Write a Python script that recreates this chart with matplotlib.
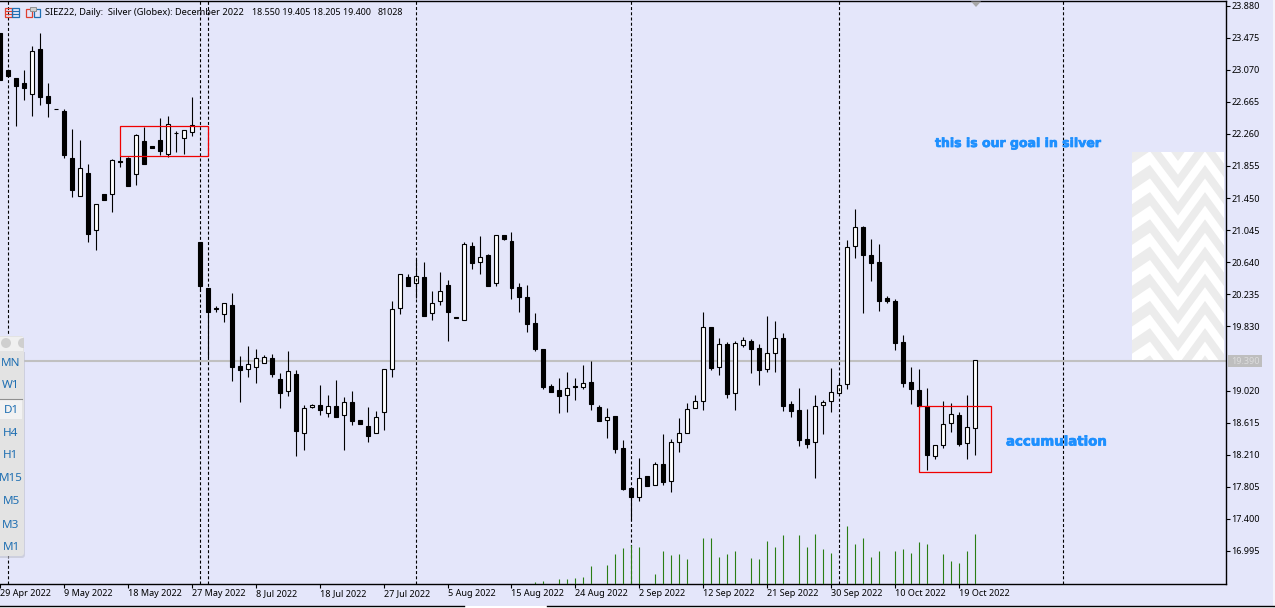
import matplotlib
matplotlib.use("Agg")
import matplotlib.pyplot as plt
import matplotlib.patheffects as pe
from matplotlib.patches import Rectangle, Polygon, Circle, FancyBboxPatch

W, H = 1275, 608

# daily candles
opens = [23.535, 23.06, 22.96, 22.905, 22.765, 23.325, 22.74, 22.58, 22.55, 21.955,
         21.475, 21.765, 21.045, 21.50, 21.50, 21.92, 21.955, 21.755, 22.17, 22.105,
         22.185, 22.005, 22.265, 22.21, 22.285, 20.895, 20.315, 20.065, 19.98, 20.10,
         19.33, 19.29, 19.315, 19.365, 19.43, 19.165, 19.01, 19.225, 18.48, 18.81,
         18.835, 18.735, 18.825, 18.71, 18.875, 18.645, 18.57, 18.48, 18.745, 19.29,
         20.06, 20.45, 20.375, 20.45, 19.995, 20.15, 20.35, 19.945, 19.915, 20.845,
         20.64, 20.73, 20.375, 20.98, 20.905, 20.325, 20.20, 19.87, 19.54, 19.075,
         19.025, 18.96, 19.08, 19.06, 19.125, 18.81, 18.645, 18.695, 18.29, 17.785,
         17.67, 17.94, 17.825, 18.09, 17.875, 18.365, 18.48, 18.805, 18.885, 19.82,
         19.315, 19.605, 18.985, 19.60, 19.645, 19.555, 19.29, 19.49, 19.68, 18.85,
         18.77, 18.405, 18.365, 18.835, 18.885, 18.995, 19.10, 20.845, 21.085, 20.73,
         20.64, 20.19, 20.15, 19.63, 19.125, 19.025, 18.82, 18.19, 18.33, 18.61,
         18.71, 18.355, 18.55]
highs = [23.535, 23.06, 22.97, 23.07, 23.375, 23.535, 22.905, 22.58, 22.58, 22.325,
         22.185, 21.885, 21.375, 21.50, 21.945, 21.985, 21.97, 22.26, 22.35, 22.105,
         22.455, 22.48, 22.29, 22.31, 22.72, 20.895, 20.315, 20.09, 20.13, 20.25,
         19.46, 19.585, 19.545, 19.465, 19.48, 19.24, 19.52, 19.275, 18.835, 18.85,
         19.09, 18.965, 19.155, 18.935, 19.015, 18.645, 18.81, 18.765, 19.29, 20.155,
         20.49, 20.49, 20.68, 20.64, 20.28, 20.52, 20.415, 19.945, 20.895, 20.895,
         20.975, 20.74, 20.98, 20.98, 21.02, 20.375, 20.35, 20.00, 19.54, 19.10,
         19.175, 19.25, 19.175, 19.345, 19.39, 18.835, 18.795, 18.695, 18.395, 17.80,
         18.17, 17.94, 18.115, 18.47, 18.405, 18.67, 18.86, 18.96, 20.01, 19.82,
         19.68, 19.63, 19.645, 19.695, 19.67, 19.605, 19.96, 19.895, 19.745, 18.885,
         19.05, 18.785, 18.96, 18.90, 19.30, 19.16, 20.92, 21.31, 21.095, 20.93,
         20.87, 20.21, 20.175, 19.725, 19.315, 19.29, 19.05, 18.33, 18.885, 18.86,
         18.745, 18.96, 19.405]
lows = [22.945, 22.995, 22.355, 22.685, 22.48, 22.62, 22.47, 22.57, 21.95, 21.46,
        21.475, 20.90, 20.80, 21.42, 21.27, 21.84, 21.60, 21.61, 21.875, 22.08,
        21.99, 21.965, 22.025, 22.00, 22.23, 20.27, 19.44, 20.015, 19.88, 19.145,
        18.88, 19.195, 19.12, 19.365, 19.185, 18.805, 18.955, 18.19, 18.265, 18.805,
        18.715, 18.685, 18.69, 18.275, 18.58, 18.595, 18.365, 18.48, 18.525, 19.185,
        19.98, 20.335, 20.19, 19.955, 19.915, 20.105, 19.64, 19.93, 19.905, 20.56,
        20.485, 20.345, 20.345, 20.915, 20.18, 20.005, 19.755, 19.525, 19.045, 19.005,
        18.73, 18.755, 18.905, 19.035, 18.78, 18.64, 18.415, 18.235, 17.77, 17.385,
        17.63, 17.82, 17.825, 17.83, 17.745, 18.25, 18.48, 18.795, 18.78, 19.275,
        19.22, 18.92, 18.78, 19.565, 19.245, 19.085, 19.25, 19.26, 18.765, 18.69,
        18.315, 18.30, 17.91, 18.475, 18.755, 18.985, 19.045, 20.69, 20.00, 20.405,
        20.03, 20.12, 19.535, 19.06, 18.845, 18.82, 18.02, 18.16, 18.29, 18.50,
        18.315, 18.16, 18.205]
closes = [22.945, 22.995, 22.86, 22.835, 23.31, 22.72, 22.645, 22.57, 21.99, 21.55,
          21.83, 20.99, 21.375, 21.42, 21.93, 21.905, 21.60, 22.245, 21.875, 22.08,
          22.04, 22.385, 22.275, 22.31, 22.375, 20.335, 20.005, 20.05, 20.13, 19.315,
          19.285, 19.355, 19.425, 19.44, 19.225, 18.995, 19.265, 18.505, 18.795, 18.835,
          18.78, 18.825, 18.69, 18.875, 18.64, 18.595, 18.445, 18.685, 19.29, 20.05,
          20.49, 20.345, 20.465, 19.955, 20.13, 20.275, 20.005, 19.93, 20.87, 20.635,
          20.705, 20.345, 20.98, 20.935, 20.32, 20.205, 19.855, 19.54, 19.07, 19.005,
          18.945, 19.05, 19.06, 19.12, 18.855, 18.64, 18.685, 18.285, 17.78, 17.67,
          17.915, 17.82, 18.09, 17.87, 18.365, 18.48, 18.785, 18.885, 19.82, 19.31,
          19.605, 18.98, 19.62, 19.655, 19.55, 19.285, 19.49, 19.68, 18.83, 18.765,
          18.40, 18.35, 18.83, 18.88, 19.005, 19.095, 20.83, 21.085, 20.725, 20.625,
          20.155, 20.145, 19.625, 19.11, 19.035, 18.82, 18.20, 18.33, 18.595, 18.72,
          18.34, 18.555, 19.40]

volume_bars = [67, 68, 70, 71, 72, 73, 74, 76, 77, 78, 79, 80, 82, 83, 84, 85, 86, 88, 89, 90,
               91, 92, 94, 95, 96, 97, 98, 100, 101, 102, 103, 104, 106, 107, 108, 109, 110,
               112, 113, 114, 115, 116, 118, 119, 120, 121, 122]
volumes = [2190, 3840, 7120, 7120, 8770, 10410, 28500, 30140, 48220, 58090, 63020, 59730,
           15340, 53160, 46580, 48220, 40000, 74530, 74530, 43290, 48220, 53160, 41650,
           40000, 69600, 59730, 79460, 79460, 59730, 81028, 56440, 49870, 94260, 64660,
           74530, 43290, 53160, 53160, 56440, 49870, 67950, 64660, 48220, 36720, 33430,
           53160, 81028]

price_ticks = [23.880, 23.475, 23.070, 22.665, 22.260, 21.855, 21.450, 21.045, 20.640,
               20.235, 19.830, 19.020, 18.615, 18.210, 17.805, 17.400, 16.995]
date_labels = ['29 Apr 2022', '9 May 2022', '18 May 2022', '27 May 2022', '8 Jul 2022',
               '18 Jul 2022', '27 Jul 2022', '5 Aug 2022', '15 Aug 2022', '24 Aug 2022',
               '2 Sep 2022', '12 Sep 2022', '21 Sep 2022', '30 Sep 2022', '10 Oct 2022',
               '19 Oct 2022']
date_bars = [0, 8, 16, 24, 32, 40, 48, 56, 64, 72, 80, 88, 96, 104, 112, 120]
period_bars = [1, 25, 26, 52, 79, 105, 133]
timeframes = ['MN', 'W1', 'D1', 'H4', 'H1', 'M15', 'M5', 'M3', 'M1']
last_price = 19.390

BG = '#e4e6fa'
plt.rcParams['font.family'] = 'Noto Sans'

fig = plt.figure(figsize=(W / 100, H / 100), dpi=100, facecolor=BG)
ax = fig.add_axes([0, 24.5 / H, 1226 / W, 582.5 / H], facecolor=BG)

# price / bar scale follow the chart's own pixel grid
ax.set_xlim(0.15, 153.4)
ax.set_ylim(16.584, 23.937)

ax.axhline(last_price, color='#c0c0c0', lw=1.5, zorder=1)

x = list(range(len(opens)))
ax.vlines(x, lows, highs, color='black', lw=0.8, zorder=2)
for i in x:
    up = closes[i] >= opens[i]
    bottom = min(opens[i], closes[i])
    height = abs(closes[i] - opens[i])
    ax.bar(i, height, bottom=bottom, width=0.5, color='white' if up else 'black',
           edgecolor='black', linewidth=0.8, zorder=3)

for b in period_bars:
    ax.axvline(b, color='black', lw=0.8, linestyle=(0, (2.7, 2.0)), zorder=4)

ax.add_patch(Rectangle((15, 21.98), 11, 0.38, fill=False, edgecolor='#f00000', lw=0.9, zorder=5))
ax.add_patch(Rectangle((115, 17.995), 9, 0.825, fill=False, edgecolor='#f00000', lw=0.9, zorder=5))

ax.spines['left'].set_visible(False)
ax.yaxis.tick_right()
ax.set_yticks(price_ticks, ['%.3f' % p for p in price_ticks])
ax.set_xticks(date_bars, date_labels, ha='left')
ax.tick_params(axis='y', length=3, width=0.8, pad=1, labelsize=6.5, colors='black')
ax.tick_params(axis='x', length=3, width=0.8, pad=1, labelsize=6.5, colors='black')
for sp in ax.spines.values():
    sp.set_linewidth(1.0)

# volume histogram sits on the same baseline
vol_ax = fig.add_axes(ax.get_position(), facecolor='none')
vol_ax.set_xlim(ax.get_xlim())
vol_ax.set_ylim(0, 957000)
vol_ax.vlines(volume_bars, 0, volumes, color='#2a7d14', lw=0.8)
vol_ax.axis('off')

# everything that is not data is placed in screen pixels
ov = fig.add_axes([0, 0, 1, 1], facecolor='none')
ov.set_xlim(0, W)
ov.set_ylim(H, 0)
ov.axis('off')

ov.text(45, 12.5, 'SIEZ22, Daily:  Silver (Globex): December 2022', fontsize=6.7,
        va='center', ha='left', color='black')
ov.text(252, 12.5, '18.550 19.405 18.205 19.400', fontsize=6.45, va='center', ha='left', color='black')
ov.text(378, 12.5, '81028', fontsize=6.45, va='center', ha='left', color='black')

heavy = [pe.withStroke(linewidth=0.5, foreground='#1e90ff')]
ov.text(935, 143.5, 'this is our goal in silver', fontsize=9.0, fontweight='bold',
        family='DejaVu Sans', color='#1e90ff', va='center', ha='left', path_effects=heavy)
ov.text(1006, 442, 'accumulation', fontsize=9.6, fontweight='bold',
        family='DejaVu Sans', color='#1e90ff', va='center', ha='left', path_effects=heavy)

# chevron picture
clip = Rectangle((1132, 152), 92, 208, facecolor='white', edgecolor='none')
ov.add_patch(clip)
for k in range(-2, 10):
    yo = 161 + 27.2 * k
    xs = [1095, 1150, 1178, 1205, 1232]
    low = [yo, yo - 37, yo, yo - 37, yo]
    pts = list(zip(xs, low)) + list(zip(xs[::-1], [v - 13.5 for v in low[::-1]]))
    poly = Polygon(pts, facecolor='#ececec', edgecolor='none')
    ov.add_patch(poly)
    poly.set_clip_path(clip)

# current price label
ov.add_patch(Rectangle((1228, 355), 34, 12, facecolor='#bebebe', edgecolor='none'))
ov.text(1231, 361, '%.3f' % last_price, fontsize=6.5, color='#dcdcdc', va='center', ha='left')

# marker on the top edge
ov.add_patch(Polygon([(971, 1.5), (981, 1.5), (976, 7)], facecolor='#a8a8a8', edgecolor='none'))

# two toolbar icons
ov.add_patch(Rectangle((4.5, 8), 7, 9, facecolor='none', edgecolor='#e04030', lw=0.9))
ov.add_patch(Rectangle((11.5, 8), 7, 9, facecolor='none', edgecolor='#1f6fb2', lw=0.9))
for yy in (11, 14):
    ov.plot([6, 11], [yy, yy], color='#e04030', lw=0.8)
    ov.plot([13, 18], [yy, yy], color='#1f6fb2', lw=0.8)
ov.add_patch(Rectangle((25.5, 9), 6, 8, facecolor='none', edgecolor='#e04030', lw=0.9))
ov.add_patch(Rectangle((33.5, 9), 6, 8, facecolor='none', edgecolor='#1f6fb2', lw=0.9))
ov.add_patch(Rectangle((29.5, 7), 6, 4, facecolor='#d0d0d0', edgecolor='#909090', lw=0.7))

# timeframe panel
ov.add_patch(FancyBboxPatch((-8, 338), 33, 220, boxstyle='round,pad=0,rounding_size=3',
                            facecolor='#bfc0cc', edgecolor='none', alpha=0.6))
ov.add_patch(FancyBboxPatch((-8, 336), 32, 220, boxstyle='round,pad=0,rounding_size=3',
                            facecolor='#e3e3e3', edgecolor='none'))
ov.add_patch(Rectangle((-2, 337), 25, 14, facecolor='#f0f0f0', edgecolor='none'))
ov.add_patch(Circle((6, 343), 5, facecolor='#cfcfcf', edgecolor='none'))
ov.add_patch(Circle((23, 343), 5, facecolor='#cfcfcf', edgecolor='none'))
ov.add_patch(Rectangle((24, 336), 8, 16, facecolor=BG, edgecolor='none'))
ov.add_patch(Rectangle((0, 399), 22, 20, facecolor='#f2f2f2', edgecolor='none'))
ov.plot([0, 22], [399, 399], color='#909090', lw=0.8)
tf_y = [363, 386, 410.5, 433, 456, 478.5, 502, 525, 548]
for name, yy in zip(timeframes, tf_y):
    ov.text(11, yy, name, fontsize=8.4, color='#1f6fb2', va='center', ha='center')

# bottom edge of the window
ov.add_patch(Rectangle((0, 606), W, 2, facecolor='white', edgecolor='none'))
ov.plot([0, 464], [606, 606], color='black', lw=1.0)
ov.plot([547, W], [606, 606], color='black', lw=1.0)
ov.add_patch(Rectangle((1273, 0), 2, H, facecolor='#f4f4fb', edgecolor='none'))

fig.savefig('out.png', dpi=100, facecolor=BG)
